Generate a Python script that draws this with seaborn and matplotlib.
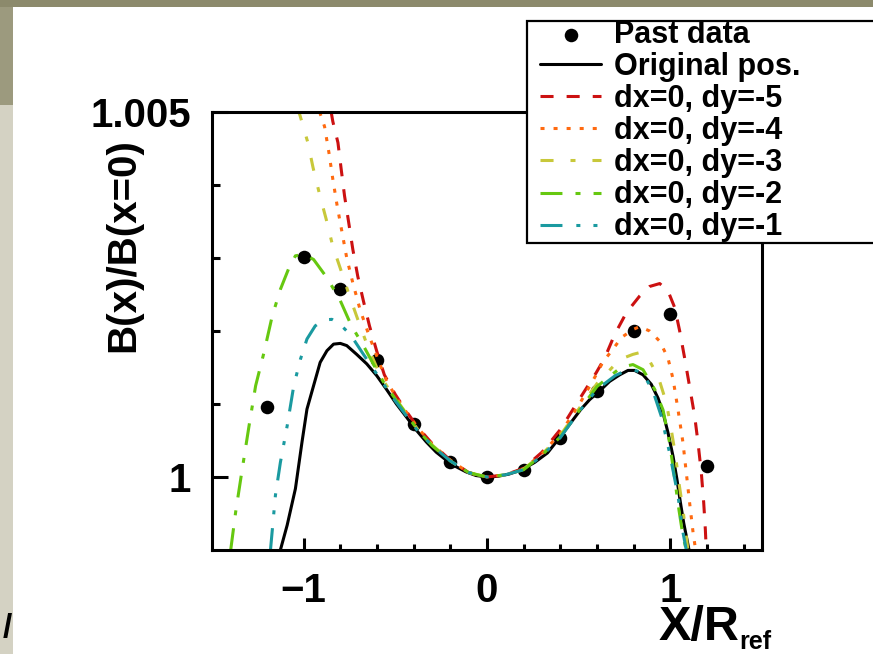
import numpy as np
import pandas as pd
import seaborn as sns
import matplotlib.pyplot as plt
from matplotlib.patches import Rectangle

# past measured points
pts_x = [-1.2, -1.0, -0.8, -0.6, -0.4, -0.2, 0.0, 0.2, 0.4, 0.6, 0.8, 1.0, 1.2]
pts_y = [1.00096, 1.00301, 1.00258, 1.0016, 1.00073, 1.00021, 1.0, 1.0001, 1.00053,
         1.00118, 1.0020, 1.00223, 1.00015]

# curves
black_x = [-1.127, -1.09, -1.045, -1.009, -0.982, -0.946, -0.91, -0.873, -0.837, -0.80, -0.765,
           -0.711, -0.656, -0.602, -0.548, -0.494, -0.439, -0.385, -0.331, -0.277, -0.222, -0.168,
           -0.114, -0.06, 0.0, 0.06, 0.12, 0.19, 0.26, 0.33, 0.39, 0.45, 0.51, 0.56, 0.615, 0.669,
           0.724, 0.769, 0.805, 0.851, 0.896, 0.933, 0.96, 0.987, 1.015, 1.036, 1.055, 1.073, 1.091, 1.102]
black_y = [0.999, 0.99934, 0.99984, 1.00048, 1.00093, 1.00125, 1.00157, 1.00173, 1.00182, 1.00183,
           1.0018, 1.00168, 1.00155, 1.00139, 1.0012, 1.001, 1.00082, 1.00064, 1.00048, 1.00034,
           1.00023, 1.00014, 1.00007, 1.00002, 1.0, 1.00001, 1.00004, 1.0001, 1.0002, 1.00033,
           1.00052, 1.00072, 1.00092, 1.00106, 1.00118, 1.00131, 1.0014, 1.00146, 1.00146, 1.0014,
           1.00127, 1.00108, 1.00088, 1.00061, 1.00028, 0.99997, 0.99965, 0.99937, 0.99914, 0.999]

red_x = [-0.85, -0.841, -0.813, -0.795, -0.777, -0.754, -0.732, -0.705, -0.674, -0.641, -0.601,
         -0.56, -0.5, -0.44, -0.38, -0.3, -0.2, -0.1, 0.0, 0.1, 0.2, 0.3, 0.4, 0.5, 0.596, 0.642,
         0.696, 0.76, 0.833, 0.887, 0.942, 0.987, 1.024, 1.051, 1.078, 1.105, 1.133, 1.151, 1.169,
         1.182, 1.191, 1.196]
red_y = [1.005, 1.00487, 1.00458, 1.00421, 1.00385, 1.00348, 1.00312, 1.00275, 1.00241, 1.00207,
         1.00172, 1.0014, 1.00113, 1.0009, 1.00069, 1.00046, 1.00023, 1.00006, 1.0, 1.00003,
         1.00012, 1.00034, 1.00065, 1.00105, 1.00143, 1.00163, 1.00195, 1.00225, 1.00248, 1.00261,
         1.00265, 1.00255, 1.00232, 1.002, 1.00163, 1.00124, 1.00083, 1.00047, 1.00006, 0.99965,
         0.99928, 0.999]

orange_x = [-0.913, -0.886, -0.862, -0.841, -0.817, -0.792, -0.765, -0.732, -0.692, -0.645, -0.587,
            -0.55, -0.5, -0.44, -0.38, -0.3, -0.2, -0.1, 0.0, 0.1, 0.2, 0.3, 0.4, 0.5, 0.6, 0.633,
            0.687, 0.733, 0.796, 0.833, 0.887, 0.942, 0.987, 1.015, 1.042, 1.069, 1.087, 1.105,
            1.124, 1.138]
orange_y = [1.005, 1.0048, 1.00444, 1.00408, 1.00371, 1.00337, 1.003, 1.00266, 1.00229, 1.00195,
            1.00156, 1.00133, 1.00111, 1.00089, 1.00068, 1.00045, 1.00023, 1.00006, 1.0, 1.00003,
            1.00011, 1.00032, 1.0006, 1.00098, 1.00142, 1.00158, 1.00175, 1.00191, 1.00202,
            1.00206, 1.002, 1.00186, 1.00163, 1.00134, 1.00092, 1.00047, 1.00006, 0.99965,
            0.99924, 0.999]

yellow_x = [-1.04, -1.022, -0.977, -0.949, -0.913, -0.877, -0.841, -0.795, -0.75, -0.705, -0.651,
            -0.596, -0.55, -0.5, -0.44, -0.38, -0.3, -0.2, -0.1, 0.0, 0.1, 0.2, 0.3, 0.4, 0.5, 0.6,
            0.724, 0.796, 0.842, 0.878, 0.933, 0.978, 1.005, 1.029, 1.047, 1.069, 1.087, 1.096]
yellow_y = [1.00505, 1.00497, 1.00458, 1.00424, 1.00387, 1.00353, 1.00316, 1.00282, 1.00248,
            1.00216, 1.00179, 1.00147, 1.00126, 1.00108, 1.00087, 1.00066, 1.00044, 1.00022,
            1.00006, 1.0, 1.00003, 1.00011, 1.00031, 1.00057, 1.00093, 1.00128, 1.00161, 1.00168,
            1.00171, 1.00163, 1.00138, 1.00102, 1.00065, 1.00028, 0.99992, 0.99955, 0.99919, 0.999]

green_x = [-1.398, -1.371, -1.335, -1.298, -1.262, -1.217, -1.172, -1.127, -1.081, -1.045, -1.0,
           -0.946, -0.873, -0.801, -0.741, -0.668, -0.614, -0.56, -0.5, -0.44, -0.38, -0.3, -0.2,
           -0.1, 0.0, 0.1, 0.2, 0.3, 0.4, 0.5, 0.6, 0.715, 0.76, 0.796, 0.851, 0.915, 0.96, 0.996,
           1.024, 1.047, 1.069, 1.087]
green_y = [0.999, 0.99952, 1.00011, 1.0007, 1.00125, 1.0017, 1.0022, 1.00257, 1.00286, 1.00303,
           1.00305, 1.00298, 1.00273, 1.00242, 1.00208, 1.00177, 1.00152, 1.00128, 1.00107,
           1.00086, 1.00065, 1.00043, 1.00022, 1.00006, 1.0, 1.00003, 1.0001, 1.0003, 1.00055,
           1.0009, 1.00124, 1.00147, 1.00152, 1.00154, 1.00147, 1.0012, 1.00092, 1.00047, 0.99997,
           0.99955, 0.99919, 0.999]

teal_x = [-1.181, -1.154, -1.127, -1.09, -1.054, -1.018, -0.982, -0.937, -0.892, -0.846, -0.801,
          -0.765, -0.729, -0.674, -0.62, -0.56, -0.5, -0.44, -0.38, -0.3, -0.2, -0.1, 0.0, 0.1,
          0.2, 0.3, 0.4, 0.5, 0.6, 0.7, 0.76, 0.80, 0.85, 0.905, 0.951, 0.996, 1.042, 1.069, 1.087]
teal_y = [0.999, 0.99975, 1.0002, 1.0007, 1.00125, 1.00161, 1.00189, 1.00207, 1.00215, 1.00216,
          1.00209, 1.0020, 1.00189, 1.00168, 1.00148, 1.00126, 1.00104, 1.00084, 1.00064,
          1.00043, 1.00022, 1.00006, 1.0, 1.00003, 1.0001, 1.00029, 1.00054, 1.00089, 1.0012,
          1.00139, 1.00146, 1.00147, 1.00142, 1.00118, 1.00083, 1.00033, 0.99974, 0.99924, 0.999]

series_names = ['Original pos.', 'dx=0, dy=-5', 'dx=0, dy=-4', 'dx=0, dy=-3',
                'dx=0, dy=-2', 'dx=0, dy=-1']
series_x = [black_x, red_x, orange_x, yellow_x, green_x, teal_x]
series_y = [black_y, red_y, orange_y, yellow_y, green_y, teal_y]
colors = ['black', '#cc1111', '#ff6a10', '#c8c83a', '#66c810', '#1a9aa0']
# dash patterns in points (not scaled by line width)
dash_list = ['', (9.4, 9.4), (2.9, 6.5), (9.4, 12.2, 3.6, 12.2),
             (15.8, 9.4, 3.6, 9.4), (15.8, 10.0, 2.9, 9.4, 2.9, 9.4)]

xmajor = [-1, 0, 1]
xmajor_labels = ['\u22121', '0', '1']
xminor = [-0.8, -0.6, -0.4, -0.2, 0.2, 0.4, 0.6, 0.8, 1.2, 1.4]
ymajor = [1.0, 1.005]
ymajor_labels = ['1', '1.005']
yminor = [1.001, 1.002, 1.003, 1.004]

df = pd.concat([pd.DataFrame({'x': sx, 'y': sy, 'series': name})
                for name, sx, sy in zip(series_names, series_x, series_y)], ignore_index=True)

sns.set_style("white")
plt.rcParams['font.family'] = ['Liberation Sans', 'DejaVu Sans']
plt.rcParams['font.weight'] = 'bold'
plt.rcParams['text.color'] = 'black'
plt.rcParams['xtick.color'] = 'black'
plt.rcParams['ytick.color'] = 'black'
plt.rcParams['lines.scale_dashes'] = False

W, H = 873, 654
fig = plt.figure(figsize=(W / 100, H / 100), dpi=100)
fig.patch.set_facecolor('#d4d2c3')
# textured frame round the white page
fig.add_artist(Rectangle((0, 1 - 105 / H), 13 / W, 105 / H, facecolor='#9c9a7e', edgecolor='none', zorder=-3))
fig.add_artist(Rectangle((0, 1 - 7 / H), 1, 7 / H, facecolor='#8c8a6c', edgecolor='none', zorder=-3))
fig.add_artist(Rectangle((13 / W, 0), 1 - 13 / W, 1 - 7 / H, facecolor='white', edgecolor='none', zorder=-2))
fig.text(3 / W, 1 - 628 / H, '/', fontsize=24, fontweight='bold', ha='left', va='center')

ax = fig.add_axes([212 / W, 1 - 550 / H, 550 / W, 438 / H])

sns.scatterplot(x=pts_x, y=pts_y, color='black', s=95, linewidth=0, ax=ax, zorder=1)
sns.lineplot(data=df, x='x', y='y', hue='series', style='series', hue_order=series_names,
             style_order=series_names, palette=dict(zip(series_names, colors)),
             dashes=dict(zip(series_names, dash_list)), estimator=None, sort=False,
             linewidth=2.2, legend=False, ax=ax)
for line, dash in zip(ax.lines, dash_list):
    line.set_linewidth(2.2)
    if dash:
        line.set_dashes(dash)
    else:
        line.set_linestyle('-')

ax.set_xlim(-1.5, 1.5)
ax.set_ylim(0.999, 1.005)
ax.set_xticks(xmajor)
ax.set_xticklabels(xmajor_labels)
ax.set_xticks(xminor, minor=True)
ax.set_yticks(ymajor)
ax.set_yticklabels(ymajor_labels)
ax.set_yticks(yminor, minor=True)
ax.tick_params(which='both', bottom=True, left=True, top=False, right=False, direction='in',
               width=2.2, color='black')
ax.tick_params(axis='x', which='major', length=8.6, labelsize=29, pad=16)
ax.tick_params(axis='x', which='minor', length=4.3)
ax.tick_params(axis='y', which='major', length=11.5, labelsize=29, pad=15)
ax.tick_params(axis='y', which='minor', length=5.8)
for lab in ax.get_xticklabels() + ax.get_yticklabels():
    lab.set_fontweight('bold')
    lab.set_color('black')
for sp in ax.spines.values():
    sp.set_visible(True)
    sp.set_color('black')
    sp.set_linewidth(2.2)
ax.set_xlabel('')
ax.set_ylabel('')

fig.text(123 / W, 1 - 245 / H, 'B(x)/B(x=0)', rotation=90, ha='center', va='center',
         fontsize=29, fontweight='bold')
fig.text(739 / W, 1 - 605 / H, 'X/R', ha='right', va='top', fontsize=35, fontweight='bold')
fig.text(739 / W, 1 - 649 / H, 'ref', ha='left', va='baseline', fontsize=18, fontweight='bold')

# legend frame drawn on its own so the inner padding can match
fig.add_artist(Rectangle((527 / W, 1 - 243 / H), 350 / W, 222 / H, facecolor='white',
                         edgecolor='black', linewidth=1.6, zorder=4))
handles = [ax.collections[0]] + ax.lines[:6]
labels = ['Past data'] + series_names
leg = fig.legend(handles, labels, loc='upper left', bbox_to_anchor=(540 / W, 1 - 20 / H),
                 bbox_transform=fig.transFigure, borderaxespad=0, frameon=False,
                 fontsize=22, handlelength=2.0, handletextpad=0.43, labelspacing=0.067,
                 borderpad=0)
leg.set_zorder(5)
for t in leg.get_texts():
    t.set_fontweight('bold')
    t.set_color('black')

fig.savefig('out.png', dpi=100)
